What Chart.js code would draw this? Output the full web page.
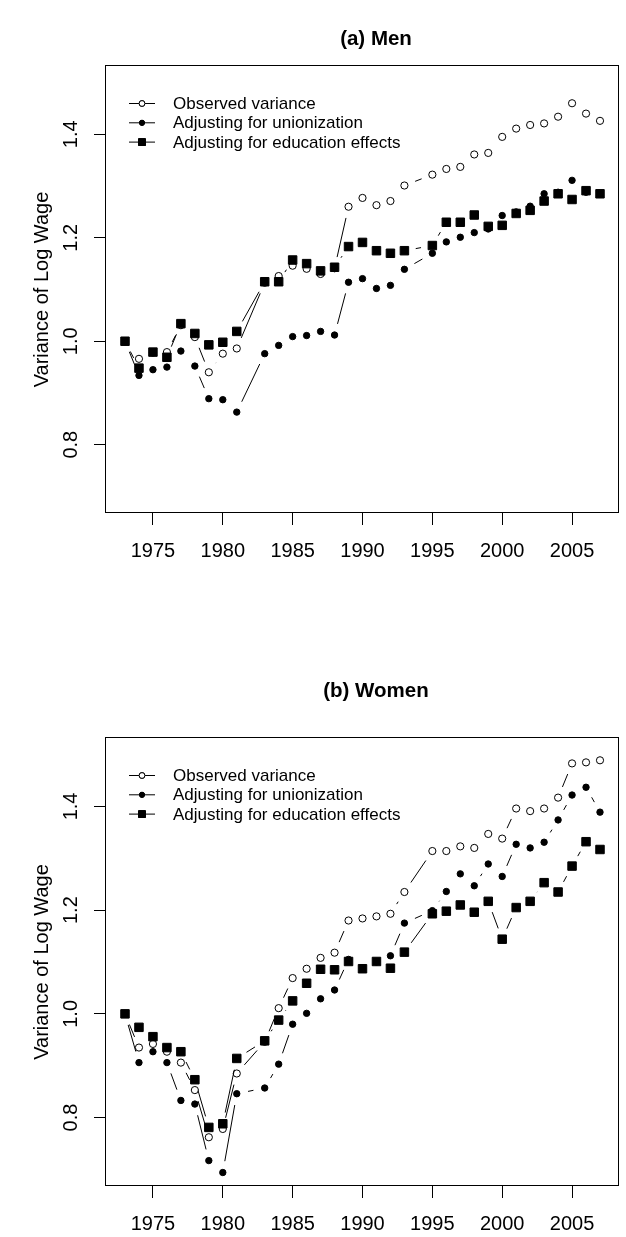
<!DOCTYPE html>
<html>
<head>
<meta charset="utf-8">
<script src="https://cdn.jsdelivr.net/npm/chart.js@4.4.1/dist/chart.umd.min.js"></script>
<style>
  body { margin: 0; background: #fff; }
  #page { position: relative; width: 626px; height: 1237px; overflow: hidden; }
  .panel { position: absolute; left: 0; width: 626px; }
  .main { position: absolute; left: 106px; width: 540px; text-align: center;
          font: bold 20.5px "Liberation Sans", Arial, sans-serif; line-height: 24px; color: #000; }
</style>
</head>
<body>
<div id="page">
  <div class="panel" style="top:0; height:618px"><canvas id="men" width="626" height="618"></canvas></div>
  <div class="panel" style="top:618px; height:619px"><canvas id="women" width="626" height="619"></canvas></div>
  <div class="main" style="top:26px">(a) Men</div>
  <div class="main" style="top:678px">(b) Women</div>
</div>
<script>
const years = [1973, 1974, 1975, 1976, 1977, 1978, 1979, 1980, 1981, 1982,
               1983, 1984, 1985, 1986, 1987, 1988, 1989, 1990, 1991, 1992,
               1993, 1994, 1995, 1996, 1997, 1998, 1999, 2000, 2001, 2002,
               2003, 2004, 2005, 2006, 2007];

const xTickValues = [1975, 1980, 1985, 1990, 1995, 2000, 2005];
const yTickValues = [0.8, 1.0, 1.2, 1.4];
const seriesLabels = ['Observed variance', 'Adjusting for unionization', 'Adjusting for education effects'];

// men
const menObserved = [1.000, 0.966, 0.978, 0.979, 1.031, 1.008, 0.940, 0.976, 0.986, null,
                     1.113, 1.126, 1.146, 1.140, 1.130, 1.141, 1.260, 1.277, 1.263, 1.271,
                     1.301, null, 1.322, 1.333, 1.337, 1.361, 1.364, 1.395, 1.411, 1.418,
                     1.421, 1.434, 1.460, 1.440, 1.426];
const menUnion = [1.000, 0.934, 0.945, 0.950, 0.981, 0.952, 0.889, 0.887, 0.863, null,
                  0.976, 0.992, 1.009, 1.011, 1.019, 1.012, 1.114, 1.121, 1.102, 1.108,
                  1.139, null, 1.170, 1.192, 1.201, 1.210, 1.217, 1.243, 1.250, 1.261,
                  1.285, 1.288, 1.311, 1.288, 1.284];
const menEducation = [1.000, 0.948, 0.979, 0.969, 1.034, 1.015, 0.993, 0.998, 1.019, null,
                      1.115, 1.115, 1.157, 1.150, 1.136, 1.143, 1.183, 1.191, 1.175, 1.170,
                      1.175, null, 1.185, 1.230, 1.230, 1.244, 1.222, 1.224, 1.247, 1.253,
                      1.271, 1.285, 1.274, 1.291, 1.285];

// women
const womenObserved = [1.000, 0.935, 0.942, 0.927, 0.906, 0.853, 0.762, 0.778, 0.885, null,
                       0.946, 1.011, 1.069, 1.087, 1.108, 1.118, 1.180, 1.184, 1.188, 1.193,
                       1.235, null, 1.314, 1.314, 1.323, 1.320, 1.347, 1.338, 1.396, 1.391,
                       1.396, 1.417, 1.483, 1.485, 1.489];
const womenUnion = [1.000, 0.906, 0.927, 0.906, 0.833, 0.826, 0.717, 0.694, 0.846, null,
                    0.857, 0.903, 0.980, 1.001, 1.029, 1.046, 1.105, 1.088, 1.100, 1.112,
                    1.175, null, 1.199, 1.236, 1.270, 1.247, 1.289, 1.265, 1.327, 1.320,
                    1.331, 1.374, 1.422, 1.437, 1.389];
const womenEducation = [1.000, 0.974, 0.956, 0.935, 0.927, 0.873, 0.781, 0.788, 0.914, null,
                        0.948, 0.988, 1.025, 1.059, 1.086, 1.085, 1.101, 1.087, 1.101, 1.088,
                        1.119, null, 1.193, 1.198, 1.210, 1.196, 1.217, 1.144, 1.205, 1.217,
                        1.253, 1.235, 1.285, 1.332, 1.317];

const FONT = '"Liberation Sans", Arial, sans-serif';

const POINT_STYLES = [
    { pointStyle: 'circle', radius: 3.6, borderWidth: 1, backgroundColor: 'rgba(0,0,0,0)', borderColor: '#000' },
    { pointStyle: 'circle', radius: 3.2, borderWidth: 1, backgroundColor: '#000', borderColor: '#000' },
    { pointStyle: 'rect', radius: 6.0, borderWidth: 1, backgroundColor: '#000', borderColor: '#000' }
];

// R type="b": segments stop short of each point
const gapLines = {
    id: 'gapLines',
    beforeDatasetsDraw(chart, args, opts) {
        const ctx = chart.ctx;
        const gap = opts.gap || 11.5;
        ctx.save();
        ctx.strokeStyle = '#000';
        ctx.lineWidth = 1;
        chart.data.datasets.forEach((ds, i) => {
            const pts = chart.getDatasetMeta(i).data.filter(p => !p.skip);
            for (let k = 1; k < pts.length; k++) {
                const a = pts[k - 1], b = pts[k];
                const d = Math.hypot(b.x - a.x, b.y - a.y);
                if (d <= 2 * gap) continue;
                const f = gap / d;
                ctx.beginPath();
                ctx.moveTo(a.x + f * (b.x - a.x), a.y + f * (b.y - a.y));
                ctx.lineTo(b.x - f * (b.x - a.x), b.y - f * (b.y - a.y));
                ctx.stroke();
            }
        });
        ctx.restore();
    }
};

// box, rotated y tick labels, legend inside plot
const frame = {
    id: 'frame',
    afterDraw(chart) {
        const ctx = chart.ctx;
        const a = chart.chartArea;
        ctx.save();
        ctx.strokeStyle = '#000';
        ctx.lineWidth = 1;
        ctx.strokeRect(Math.round(a.left) - 0.5, Math.round(a.top) - 0.5,
                       Math.round(a.right) - Math.round(a.left), Math.round(a.bottom) - Math.round(a.top));

        const ys = chart.scales.y;
        ctx.fillStyle = '#000';
        ctx.font = '20px ' + FONT;
        ctx.textAlign = 'center';
        ctx.textBaseline = 'middle';
        yTickValues.forEach(v => {
            ctx.save();
            ctx.translate(70, ys.getPixelForValue(v));
            ctx.rotate(-Math.PI / 2);
            ctx.fillText(v.toFixed(1), 0, 1);
            ctx.restore();
        });

        ctx.font = '17px ' + FONT;
        ctx.textAlign = 'left';
        seriesLabels.forEach((label, i) => {
            const y = a.top + 37.5 + i * 19.3;
            ctx.beginPath();
            ctx.moveTo(129, y);
            ctx.lineTo(155, y);
            ctx.stroke();
            const st = POINT_STYLES[i];
            Chart.helpers.drawPoint(ctx, {
                pointStyle: st.pointStyle, radius: st.radius * 0.8, borderWidth: 1, rotation: 0
            }, 142, y);
            ctx.fillStyle = i === 0 ? '#fff' : '#000';
            ctx.fill();
            ctx.stroke();
            ctx.fillStyle = '#000';
            ctx.fillText(label, 173, y + 1);
        });
        ctx.restore();
    }
};

function makePanel(id, observed, union, education, padTop, xAxisHeight) {
    const all = [observed, union, education];
    return new Chart(document.getElementById(id), {
        type: 'scatter',
        data: {
            datasets: all.map((vals, i) => ({
                label: seriesLabels[i],
                data: years.map((yr, j) => ({ x: yr, y: vals[j] })),
                showLine: false,
                order: 3 - i,
                pointStyle: POINT_STYLES[i].pointStyle,
                pointRadius: POINT_STYLES[i].radius,
                pointBorderWidth: POINT_STYLES[i].borderWidth,
                pointBackgroundColor: POINT_STYLES[i].backgroundColor,
                pointBorderColor: POINT_STYLES[i].borderColor
            }))
        },
        options: {
            responsive: false,
            animation: false,
            events: [],
            layout: { padding: { top: padTop, right: 2, left: 0, bottom: 0 } },
            plugins: {
                legend: { display: false },
                title: { display: false },
                tooltip: { enabled: false },
                gapLines: { gap: 11.5 }
            },
            scales: {
                x: {
                    type: 'linear',
                    min: 1971.64,
                    max: 2008.36,
                    afterFit: s => { s.height = xAxisHeight; },
                    afterBuildTicks: s => { s.ticks = xTickValues.map(v => ({ value: v })); },
                    grid: { drawOnChartArea: false, drawTicks: true, tickLength: 12, color: '#000', lineWidth: 1 },
                    border: { display: false },
                    ticks: {
                        padding: 14,
                        color: '#000',
                        font: { family: FONT, size: 20 },
                        maxRotation: 0,
                        autoSkip: false,
                        callback: v => String(v)
                    }
                },
                y: {
                    type: 'linear',
                    min: 0.668,
                    max: 1.532,
                    afterFit: s => { s.width = 106; },
                    afterBuildTicks: s => { s.ticks = yTickValues.map(v => ({ value: v })); },
                    grid: { drawOnChartArea: false, drawTicks: true, tickLength: 12, color: '#000', lineWidth: 1 },
                    border: { display: false },
                    ticks: { display: false },
                    title: {
                        display: true,
                        text: 'Variance of Log Wage',
                        color: '#000',
                        font: { family: FONT, size: 20 },
                        padding: { top: 30, bottom: 0 }
                    }
                }
            }
        },
        plugins: [gapLines, frame]
    });
}

makePanel('men', menObserved, menUnion, menEducation, 66, 105);
makePanel('women', womenObserved, womenUnion, womenEducation, 120, 51);
</script>
</body>
</html>
